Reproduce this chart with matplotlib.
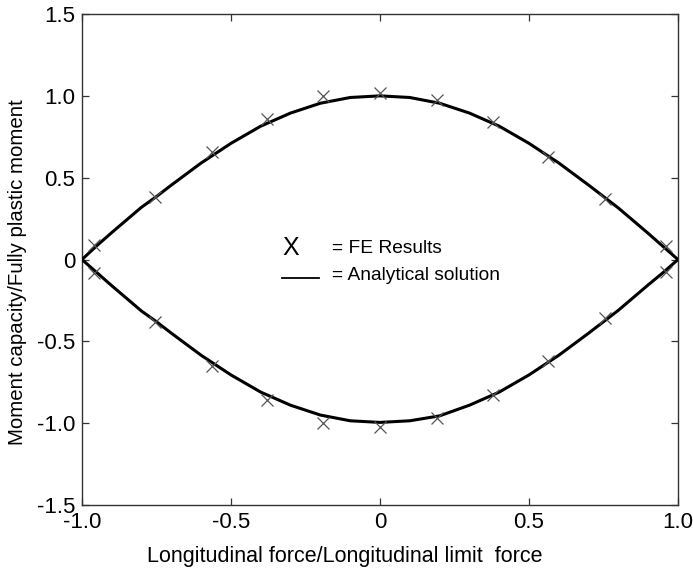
import matplotlib
matplotlib.use("Agg")
import matplotlib.pyplot as plt

plt.rcParams['font.family'] = ['Liberation Sans', 'DejaVu Sans']
plt.rcParams['axes.unicode_minus'] = False

# ── data ─────────────────────────────────────────────────────────────────
# analytical interaction curve (upper / lower branch)
curve_x = [-1.0, -0.95, -0.9, -0.8, -0.75, -0.7, -0.6, -0.5, -0.4, -0.3,
           -0.2, -0.1, 0.0, 0.1, 0.2, 0.3, 0.4, 0.5, 0.6, 0.7, 0.8, 0.9,
           0.95, 1.0]
curve_upper = [0.0, 0.085, 0.165, 0.32, 0.385, 0.455, 0.59, 0.71, 0.815,
               0.895, 0.955, 0.99, 1.0, 0.99, 0.955, 0.895, 0.815, 0.71,
               0.59, 0.455, 0.315, 0.16, 0.08, 0.0]
curve_lower = [0.0, -0.08, -0.16, -0.315, -0.38, -0.45, -0.585, -0.705,
               -0.81, -0.89, -0.95, -0.985, -0.995, -0.985, -0.955, -0.89,
               -0.81, -0.705, -0.585, -0.45, -0.31, -0.155, -0.08, 0.0]

# FE results (crosses)
fe_x = [-0.96, -0.755, -0.565, -0.38, -0.19, 0.0, 0.19, 0.38, 0.565,
        0.755, 0.96]
fe_upper = [0.09, 0.385, 0.655, 0.86, 1.0, 1.02, 0.975, 0.84, 0.625,
            0.37, 0.085]
fe_lower = [-0.085, -0.38, -0.65, -0.86, -1.0, -1.02, -0.97, -0.83,
            -0.62, -0.36, -0.075]

x_ticks = [-1.0, -0.5, 0.0, 0.5, 1.0]
x_tick_labels = ["-1.0", "-0.5", "0", "0.5", "1.0"]
y_ticks = [-1.5, -1.0, -0.5, 0.0, 0.5, 1.0, 1.5]
y_tick_labels = ["-1.5", "-1.0", "-0.5", "0", "0.5", "1.0", "1.5"]

# ── figure ───────────────────────────────────────────────────────────────
fig = plt.figure(figsize=(6.93, 5.72), dpi=100)
ax = fig.add_axes([0.1183, 0.117, 0.8600, 0.8585])

ax.plot(curve_x, curve_upper, color='black', lw=2.2, zorder=3)
ax.plot(curve_x, curve_lower, color='black', lw=2.2, zorder=3)
ax.plot(fe_x, fe_upper, ls='none', marker='x', ms=8, mew=0.9,
        color='#555555', zorder=4)
ax.plot(fe_x, fe_lower, ls='none', marker='x', ms=8, mew=0.9,
        color='#555555', zorder=4)

ax.set_xlim(-1.0, 1.0)
ax.set_ylim(-1.5, 1.5)
ax.set_xticks(x_ticks)
ax.set_xticklabels(x_tick_labels)
ax.set_yticks(y_ticks)
ax.set_yticklabels(y_tick_labels)
ax.tick_params(direction='in', length=5, width=0.9, color='#333333',
               labelsize=16, top=True, right=True, pad=5)
for sp in ax.spines.values():
    sp.set_color('#333333')
    sp.set_linewidth(1.0)

ax.set_xlabel("Longitudinal force/Longitudinal limit  force", fontsize=15.5)
ax.set_ylabel("Moment capacity/Fully plastic moment", fontsize=14.7)
# labels sit a little off-centre in the original
ax.xaxis.set_label_coords(0.441, -0.083)
ax.yaxis.set_label_coords(-0.092, 0.4745)

# hand-made key in the middle of the plot
ax.text(-0.30, 0.068, "X", fontsize=18, ha='center', va='center')
ax.text(-0.162, 0.068, "= FE Results", fontsize=13.8, ha='left', va='center')
ax.plot([-0.33, -0.205], [-0.11, -0.11], color='black', lw=1.3)
ax.text(-0.162, -0.10, "= Analytical solution", fontsize=13.8, ha='left',
        va='center')

fig.savefig("out.png", dpi=100)
